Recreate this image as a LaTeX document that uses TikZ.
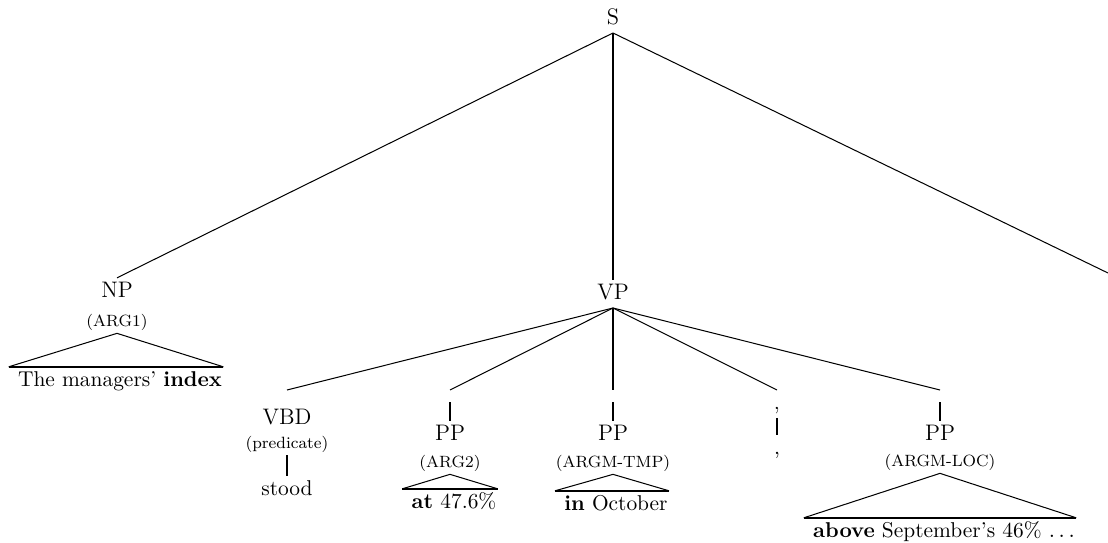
\documentclass[tikz,border=0pt]{standalone}
\usepackage{tikz}

% triangle over a phrase: apex under the role label, base over the words
\newcommand{\phraseroof}[2]{%
  \draw[edge] ([xshift=-2.2pt]#2.north west) -- (#1.south) -- ([xshift=-1.7pt]#2.north east);
  \draw[stem] ([xshift=-2.2pt]#2.north west) -- ([xshift=-1.7pt]#2.north east);}

\begin{document}
\begin{tikzpicture}[
  x=0.49pt, y=-0.49pt,
  cat/.style={anchor=base, inner sep=2.2pt, text height=7pt, text depth=2pt,
              font=\fontsize{11}{13}\selectfont},
  role/.style={anchor=base, inner sep=2.2pt, text depth=1.2pt, font=\footnotesize},
  leaf/.style={cat, font=\fontsize{10.5}{12.6}\selectfont},
  edge/.style={line width=0.5pt},
  stem/.style={line width=0.9pt},
]
\useasboundingbox (0,0) rectangle (1108,543);

\node[cat] (s) at (613,24) {S};
\node[cat] (np) at (117,297) {NP};
\node[role] (np-arg) at (117,326) {(ARG1)};
\node[leaf] (np-words) at (120,386) {The managers' \textbf{index}};
\node[cat] (vp) at (613,299) {VP};
\coordinate (s-rest) at (1108,273);

\draw[edge] (s.south) -- (np.north);
\draw[stem] (s.south) -- (vp.north);
\draw[edge] (s.south) -- (s-rest);
\phraseroof{np-arg}{np-words}

% daughters of VP
\node[cat] (vbd) at (287,424) {VBD};
\node[role] (vbd-arg) at (287,448) {(predicate)};
\node[leaf] (vbd-word) at (287,495) {stood};

\node[cat] (pp1) at (450,440) {PP};
\node[role] (pp1-arg) at (450,467) {(ARG2)};
\node[leaf] (pp1-words) at (454,508) {\textbf{at} 47.6\%};

\node[cat] (pp2) at (613,440) {PP};
\node[role] (pp2-arg) at (613,467) {(ARGM-TMP)};
\node[leaf] (pp2-words) at (616,510) {\textbf{in} October};

\node[cat] (comma) at (777,409) {,};
\node[leaf] (comma-word) at (777,454) {,};

\node[cat] (pp3) at (940,440) {PP};
\node[role] (pp3-arg) at (940,466) {(ARGM-LOC)};
\node[leaf] (pp3-words) at (944,537) {\textbf{above} September's 46\% $\ldots$};

\coordinate (vbd-in) at (287,390);
\coordinate (pp1-in) at (450,390);
\coordinate (pp2-in) at (613,390);
\coordinate (comma-in) at (777,390);
\coordinate (pp3-in) at (940,390);

\draw[edge] (vp.south) -- (vbd-in);
\draw[edge] (vp.south) -- (pp1-in);
\draw[stem] (vp.south) -- (pp2-in);
\draw[edge] (vp.south) -- (comma-in);
\draw[edge] (vp.south) -- (pp3-in);

\foreach \p in {pp1,pp2,pp3}
  \draw[stem] (\p.north) -- ++(0,-19);
\draw[stem] (vbd-arg.south) -- (vbd-word.north);
\draw[stem] (comma.south) -- (comma-word.north);

\phraseroof{pp1-arg}{pp1-words}
\phraseroof{pp2-arg}{pp2-words}
\phraseroof{pp3-arg}{pp3-words}
\end{tikzpicture}
\end{document}
